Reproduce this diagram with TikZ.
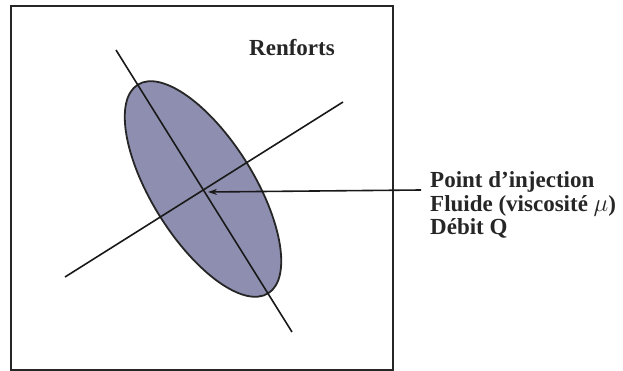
\documentclass[tikz,border=0pt]{standalone}
\usepackage{fontspec}
\setmainfont{Liberation Serif}
\usetikzlibrary{arrows.meta}
\definecolor{fillblue}{RGB}{142,143,176}
\tikzset{
  axisline/.style={line width=1.6pt, black!90},
  lbl/.style={font=\fontsize{23}{23.5}\selectfont\bfseries, inner sep=0pt, text=black!85}
}
\begin{document}
\begin{tikzpicture}[x=1pt,y=-1pt]
\useasboundingbox (0,0) rectangle (623,371);
\draw[line width=2pt, black!85] (11,6) rectangle (393,369.5);
\draw[fill=fillblue, line width=1.8pt, draw=black!85, rotate around={-58:(203,189)}] (203,189) ellipse [x radius=123, y radius=51];
\coordinate (a1) at (116,50);
\coordinate (a2) at (292,332);
\coordinate (b1) at (65,277);
\coordinate (b2) at (343,102);
\draw[axisline] (a1) -- (a2);
\draw[axisline] (b1) -- (b2);
\node[lbl] (renf) at (292,48) {Renforts};
\node[lbl, anchor=west, align=left] (txt) at (430,205) {Point d’injection\\Fluide (viscosité $\mu$)\\Débit Q};
\coordinate (as) at (421,190);
\coordinate (at) at (208,192);
\draw[axisline, -{Stealth[length=9pt,width=6pt]}] (as) -- (at);
\end{tikzpicture}
\end{document}
